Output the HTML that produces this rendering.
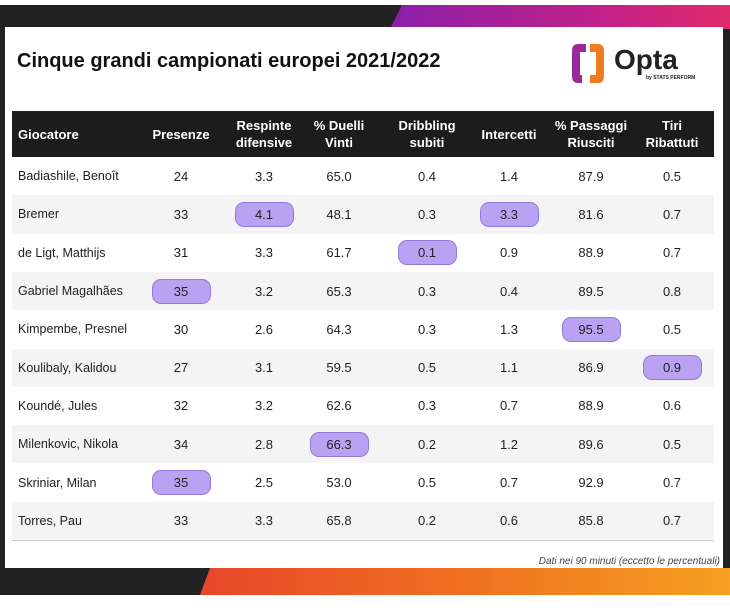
<!DOCTYPE html>
<html><head><meta charset="utf-8"><style>
body{margin:0;width:730px;height:612px;background:#fff;font-family:"Liberation Sans",sans-serif;position:relative;overflow:hidden}
#frame{position:absolute;left:0;top:5px;width:730px;height:590px;background:#222}
.grad-top{position:absolute;top:5px;left:390px;width:340px;height:24px;background:linear-gradient(90deg,#8a1fa8,#c0208a 60%,#e02a6a);clip-path:polygon(12px 0,100% 0,100% 100%,0 100%)}
.grad-bot{position:absolute;top:568px;left:200px;width:530px;height:27px;background:linear-gradient(90deg,#e8462a,#f07020 50%,#f5a020);clip-path:polygon(10px 0,100% 0,100% 100%,0 100%)}
#card{position:absolute;left:5px;top:27px;width:718px;height:541px;background:#fff}
h1{position:absolute;left:17px;top:50px;margin:0;font-size:20px;font-weight:bold;color:#111}
#header{position:absolute;left:12px;top:111px;width:702px;height:46px;background:#1c1c1c}
.row{position:absolute;left:12px;width:702px;height:38.3px}
.row.alt{background:#f4f4f4}
.c{position:absolute;top:0;height:100%;display:flex;align-items:center;justify-content:center;width:90px;margin-left:-45px;font-size:13px;color:#222;white-space:nowrap}
.h{color:#fff;font-weight:bold;text-align:center;line-height:17px;font-family:"Liberation Sans Narrow","Liberation Sans",sans-serif;font-size:13px}
.name{justify-content:flex-start;margin-left:0;width:130px;font-size:12.5px;font-family:"Liberation Sans Narrow","Liberation Sans",sans-serif}
.pill{display:inline-block;width:57px;height:23px;line-height:23px;text-align:center;background:#b9a2f2;border:1px solid #9479dc;border-radius:9px}
#line{position:absolute;left:12px;top:540px;width:702px;height:1px;background:#ccc}
#note{position:absolute;right:10px;top:556px;font-size:10px;font-style:italic;color:#444}
</style></head><body>
<div id="frame"></div>
<div class="grad-top"></div>
<div class="grad-bot"></div>
<div id="card"></div>
<h1>Cinque grandi campionati europei 2021/2022</h1>
<div style="position:absolute;left:570px;top:42px;width:130px;height:44px">
<svg width="36" height="44" viewBox="0 0 36 44"><path d="M16 2 H8 Q2 2 2 9 V34 Q2 41 8 41 H12 V33 H10 V10 H16 Z" fill="#9a2a9a"/><path d="M20 2 H28 Q34 2 34 9 V34 Q34 41 28 41 H20 V33 H26 V10 H20 Z" fill="#f07a20"/></svg>
<span style="position:absolute;left:44px;top:2px;font-size:28px;font-weight:bold;color:#222">Opta</span>
<span style="position:absolute;left:76px;top:33px;font-size:5px;font-weight:bold;color:#222">by STATS PERFORM</span>
</div>
<div id="header"></div>
<div id="rows"></div>
<div id="line"></div>
<div id="note">Dati nei 90 minuti (eccetto le percentuali)</div>
<script>
const headers=["Giocatore","Presenze","Respinte<br>difensive","% Duelli<br>Vinti","Dribbling<br>subiti","Intercetti","% Passaggi<br>Riusciti","Tiri<br>Ribattuti"];
const players=["Badiashile, Benoît","Bremer","de Ligt, Matthijs","Gabriel Magalhães","Kimpembe, Presnel","Koulibaly, Kalidou","Koundé, Jules","Milenkovic, Nikola","Skriniar, Milan","Torres, Pau"];
const presenze=["24","33","31","35","30","27","32","34","35","33"];
const respinte=["3.3","4.1","3.3","3.2","2.6","3.1","3.2","2.8","2.5","3.3"];
const duelli=["65.0","48.1","61.7","65.3","64.3","59.5","62.6","66.3","53.0","65.8"];
const dribbling=["0.4","0.3","0.1","0.3","0.3","0.5","0.3","0.2","0.5","0.2"];
const intercetti=["1.4","3.3","0.9","0.4","1.3","1.1","0.7","1.2","0.7","0.6"];
const passaggi=["87.9","81.6","88.9","89.5","95.5","86.9","88.9","89.6","92.9","85.8"];
const tiri=["0.5","0.7","0.7","0.8","0.5","0.9","0.6","0.5","0.7","0.7"];
const highlight=[[],[2,5],[4],[1],[6],[7],[],[3],[1],[]];
const colX=[6,169,252,327,415,497,579,660];
const hdr=document.getElementById('header');
headers.forEach((h,j)=>{
const d=document.createElement('div');


d.className='c h'+(j===0?' name':'');
d.style.left=colX[j]+'px';
if(j===0){d.style.color='#fff';d.style.fontSize='13px';}
d.innerHTML=h;hdr.appendChild(d);});
const rows=document.getElementById('rows');
players.forEach((p,i)=>{
const r=document.createElement('div');


r.className='row'+(i%2?' alt':'');
r.style.top=(157+i*38.3)+'px';
[p,presenze[i],respinte[i],duelli[i],dribbling[i],intercetti[i],passaggi[i],tiri[i]].forEach((v,j)=>{
const c=document.createElement('div');


c.className='c'+(j===0?' name':'');
c.style.left=colX[j]+'px';
if(highlight[i].includes(j)){const s=document.createElement('span');s.className='pill';s.textContent=v;


c.appendChild(s);}else c.textContent=v;
r.appendChild(c);});
rows.appendChild(r);});
</script>
</body></html>
